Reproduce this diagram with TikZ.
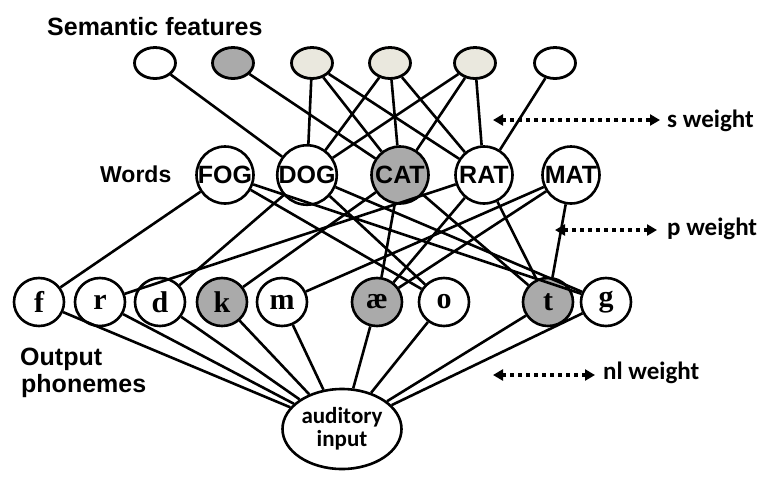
\documentclass[tikz,border=0pt]{standalone}
\usepackage{fontspec}
\setmainfont{Carlito}
\newfontfamily\wordfont{Liberation Sans}
\newfontfamily\phonfont{Liberation Serif}
\usetikzlibrary{arrows.meta,shapes.geometric}
\definecolor{grayfill}{RGB}{170,170,170}
\definecolor{beige}{RGB}{234,232,222}
\begin{document}
\begin{tikzpicture}[x=1pt,y=-1pt,
  conn/.style={line width=2.6pt, black},
  sem/.style={ellipse, draw, line width=2.8pt, minimum width=41pt, minimum height=31pt, inner sep=0pt, fill=white},
  word/.style={circle, draw, line width=2.6pt, minimum size=57pt, inner sep=0pt, fill=white, font=\wordfont\bfseries\fontsize{25}{28}\selectfont},
  phon/.style={ellipse, draw, line width=2.6pt, minimum width=50pt, minimum height=48pt, inner sep=0pt, fill=white, font=\phonfont\bfseries\fontsize{30}{30}\selectfont},
  aud/.style={ellipse, draw, line width=2.6pt, minimum width=119pt, minimum height=80pt, inner sep=0pt, fill=white, align=center, font=\bfseries\fontsize{23}{23}\selectfont},
  lab/.style={font=\wordfont\bfseries\fontsize{25}{28}\selectfont, inner sep=0pt},
  wlab/.style={font=\bfseries\fontsize{25}{28}\selectfont, inner sep=0pt, anchor=west},
  wt/.style={line width=3.5pt, dash pattern=on 4pt off 4pt, {Triangle[length=10pt,width=11pt]}-{Triangle[length=10pt,width=11pt]}},
]
\useasboundingbox (0,0) rectangle (772,480);
\fill[white] (0,0) rectangle (772,480);

% labels
\node[lab, anchor=base west] (lsem) at (47,35) {Semantic features};
\node[lab, anchor=base west, font=\wordfont\bfseries\fontsize{23}{28}\selectfont] (lwords) at (100,182) {Words};
\node[lab, anchor=base west] (lout1) at (20,365) {Output};
\node[lab, anchor=base west] (lout2) at (21,392) {phonemes};

% semantic features
\node[sem] (s1) at (155,63) {};
\node[sem, fill=grayfill] (s2) at (233,63) {};
\node[sem, fill=beige] (s3) at (312,63) {};
\node[sem, fill=beige] (s4) at (390,63) {};
\node[sem, fill=beige] (s5) at (475,63) {};
\node[sem] (s6) at (555,63) {};

% words
\node[word] (fog) at (225,175) {FOG};
\node[word] (dog) at (307,175) {DOG};
\node[word, fill=grayfill] (cat) at (400,175) {CAT};
\node[word] (rat) at (484,175) {RAT};
\node[word] (mat) at (571,175) {MAT};

% phonemes
\node[phon] (f) at (39,302) {f};
\node[phon] (r) at (100,302) {r};
\node[phon] (d) at (160,302) {d};
\node[phon, fill=grayfill] (k) at (222,302) {k};
\node[phon] (m) at (282,302) {m};
\node[phon, fill=grayfill] (ae) at (377,302) {æ};
\node[phon] (o) at (444,302) {o};
\node[phon, fill=grayfill] (t) at (548,302) {t};
\node[phon] (g) at (606,302) {g};

% auditory input
\node[aud] (in) at (342,429) {auditory\\input};

% semantic -> words
\foreach \a/\b in {s1/dog, s2/cat, s3/dog, s3/cat, s3/rat, s4/dog, s4/cat, s4/rat, s5/dog, s5/cat, s5/rat, s6/rat}
  \draw[conn] (\a) -- (\b);

% words -> phonemes
\foreach \a/\b in {fog/f, fog/o, fog/g, dog/d, dog/o, dog/g, cat/k, cat/ae, cat/t, rat/r, rat/ae, rat/t, mat/m, mat/ae, mat/t}
  \draw[conn] (\a) -- (\b);

% phonemes -> auditory input
\foreach \a in {f, r, d, k, m, ae, o, t, g}
  \draw[conn] (\a) -- (in);

% weight arrows
\node[wlab] (sw) at (667,121) {s weight};
\coordinate (swa) at (493,120);
\draw[wt] (swa) -- ([xshift=-7pt]sw.west |- swa);

\node[wlab] (pw) at (667,229) {p weight};
\coordinate (pwa) at (555,230);
\draw[wt] (pwa) -- ([xshift=-10pt]pw.west |- pwa);

\node[wlab] (nw) at (603,373) {nl weight};
\coordinate (nwa) at (493,375);
\draw[wt] (nwa) -- ([xshift=-8pt]nw.west |- nwa);
\end{tikzpicture}
\end{document}
